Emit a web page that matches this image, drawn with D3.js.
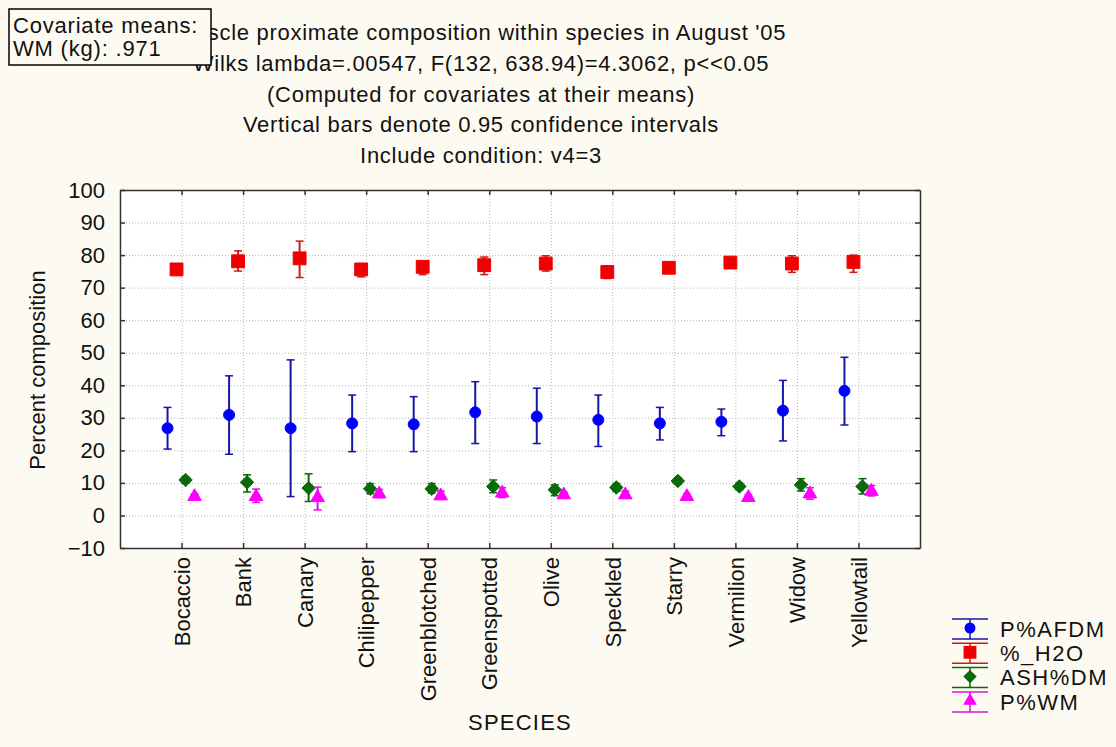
<!DOCTYPE html>
<html>
<head>
<meta charset="utf-8">
<script src="https://cdn.jsdelivr.net/npm/d3@7"></script>
<style>
  body { margin:0; background:#fdfbf1; }
  .canvas { width:1116px; height:747px; }
  text { font-family: "Liberation Sans", Arial, sans-serif; fill:#111; }
  .grid line { stroke:#b8b8b8; stroke-dasharray:1,2; }
</style>
</head>
<body>
<div class="canvas"></div>
<script>
var species = ['Bocaccio','Bank','Canary','Chilipepper','Greenblotched','Greenspotted',
               'Olive','Speckled','Starry','Vermilion','Widow','Yellowtail'];
var seriesNames = ['P%AFDM','%_H2O','ASH%DM','P%WM'];

// means and 0.95 confidence limits
var afdmMean = [26.8, 30.9, 26.8, 28.3, 28.0, 31.7, 30.4, 29.4, 28.3, 28.8, 32.2, 38.3];
var afdmLo   = [20.4, 18.8,  5.8, 19.6, 19.6, 22.1, 22.1, 21.2, 23.2, 24.5, 22.9, 27.8];
var afdmHi   = [33.2, 42.9, 47.8, 37.0, 36.5, 41.1, 39.1, 37.0, 33.2, 32.7, 41.5, 48.6];
var h2oMean  = [75.6, 78.1, 79.0, 75.6, 76.4, 76.9, 77.4, 74.8, 76.1, 77.7, 77.4, 77.9];
var h2oLo    = [74.6, 75.1, 73.1, 73.3, 74.0, 74.0, 75.1, 72.8, 75.2, 76.8, 74.7, 74.7];
var h2oHi    = [76.6, 81.3, 84.3, 77.3, 78.1, 79.4, 79.8, 76.7, 77.0, 78.6, 79.8, 80.0];
var ashMean  = [10.9, 10.2,  8.4,  8.2,  8.2,  8.9,  7.9,  8.6, 10.6,  8.9,  9.4,  8.9];
var ashLo    = [ 9.9,  7.2,  4.3,  6.7,  6.9,  7.0,  6.1,  7.4,  9.6,  7.9,  7.5,  6.6];
var ashHi    = [11.9, 12.5, 12.8,  9.8,  9.8, 10.9,  9.4,  9.8, 11.6,  9.9, 11.3, 11.3];
var wmMean   = [ 5.8,  5.8,  5.5,  6.6,  6.0,  6.9,  6.3,  6.3,  5.8,  5.5,  6.6,  7.4];
var wmLo     = [ 5.0,  4.0,  1.7,  5.5,  5.0,  5.5,  5.4,  5.3,  5.0,  4.6,  5.0,  6.0];
var wmHi     = [ 6.6,  8.1,  8.7,  8.0,  7.5,  8.5,  7.2,  7.5,  6.6,  6.4,  8.5,  9.2];
var yTicks = [-10,0,10,20,30,40,50,60,70,80,90,100];

var titleLines = ["Muscle proximate composition within species in August '05",
                  "Wilks lambda=.00547, F(132, 638.94)=4.3062, p<<0.05",
                  "(Computed for covariates at their means)",
                  "Vertical bars denote 0.95 confidence intervals",
                  "Include condition: v4=3"];

var pageWidth = 1116, pageHeight = 747;
var margins = {t:190,r:196,b:199,l:120};
var plotWidth = pageWidth - margins.l - margins.r,
    plotHeight = pageHeight - margins.t - margins.b;

var diamond = {draw:function(ctx,size){ var r = Math.sqrt(size/2);
    ctx.moveTo(0,-r); ctx.lineTo(r,0); ctx.lineTo(0,r); ctx.lineTo(-r,0); ctx.closePath(); }};

var series = [
  {name:seriesNames[0], mean:afdmMean, lo:afdmLo, hi:afdmHi, fill:'#0000ff', line:'#1515a8', shape:d3.symbolCircle, size:95},
  {name:seriesNames[1], mean:h2oMean,  lo:h2oLo,  hi:h2oHi,  fill:'#f00000', line:'#d01818', shape:d3.symbolSquare, size:165},
  {name:seriesNames[2], mean:ashMean,  lo:ashLo,  hi:ashHi,  fill:'#086a08', line:'#0a6a0a', shape:diamond, size:90},
  {name:seriesNames[3], mean:wmMean,   lo:wmLo,   hi:wmHi,   fill:'#ff00ff', line:'#e010e0', shape:d3.symbolTriangle, size:80}
];

var svg = d3.select('.canvas')
    .append('svg')
    .attr('width',pageWidth)
    .attr('height',pageHeight);

svg.append('rect')
    .attr('width',pageWidth)
    .attr('height',pageHeight)
    .attr('fill','#fdfbf1');

// titles
svg.selectAll('.title')
    .data(titleLines)
    .enter()
    .append('text')
    .attr('class','title')
    .attr('x',481)
    .attr('y',function(d,i){ return 40 + i*30.8; })
    .attr('text-anchor','middle')
    .style('font-size','22px')
    .style('letter-spacing','0.7px')
    .text(function(d){ return d; });

var plot = svg.append('g')
    .attr('transform','translate('+margins.l+','+margins.t+')');

var x = d3.scalePoint().domain(species).range([0,plotWidth]).padding(1);
var y = d3.scaleLinear().domain([-10,100]).range([plotHeight,0]);
var offset = d3.scalePoint().domain(seriesNames).range([-14,13]);

plot.append('rect')
    .attr('width',plotWidth)
    .attr('height',plotHeight)
    .attr('fill','#ffffff');

// grid
plot.append('g')
    .attr('class','grid')
    .call(d3.axisLeft(y).tickValues(yTicks).tickSize(-plotWidth).tickFormat(''))
    .call(function(g){ g.select('.domain').remove(); });
plot.append('g')
    .attr('class','grid')
    .call(d3.axisBottom(x).tickSize(plotHeight).tickFormat(''))
    .call(function(g){ g.select('.domain').remove(); });

// axes with inward ticks
var axisLeft = plot.append('g')
    .call(d3.axisLeft(y).tickValues(yTicks).tickSizeInner(-5).tickSizeOuter(0).tickPadding(15));
var axisBottom = plot.append('g')
    .attr('transform','translate(0,'+plotHeight+')')
    .call(d3.axisBottom(x).tickSizeInner(-5).tickSizeOuter(0));
plot.append('g')
    .call(d3.axisTop(x).tickSizeInner(-5).tickSizeOuter(0).tickFormat(''));
plot.append('g')
    .attr('transform','translate('+plotWidth+',0)')
    .call(d3.axisRight(y).tickValues(yTicks).tickSizeInner(-5).tickSizeOuter(0).tickFormat(''));

plot.selectAll('.domain').attr('stroke','#333').attr('stroke-width',1.5);
plot.selectAll('.tick line').filter(function(){ return !this.parentNode.parentNode.classList.contains('grid'); })
    .attr('stroke','#333').attr('stroke-width',1.5);

axisLeft.selectAll('text')
    .style('font-size','22px')
    .attr('fill','#111');

axisBottom.selectAll('text')
    .style('font-size','22px')
    .attr('fill','#111')
    .attr('text-anchor','end')
    .attr('transform','rotate(-90)')
    .attr('x',-9)
    .attr('y',0)
    .attr('dy','0.35em');

// error bars + markers
series.forEach(function(s){
    var g = plot.append('g').attr('class','series');
    species.forEach(function(sp,i){
        var cx = x(sp) + offset(s.name);
        g.append('line')
            .attr('x1',cx).attr('x2',cx)
            .attr('y1',y(s.lo[i])).attr('y2',y(s.hi[i]))
            .attr('stroke',s.line).attr('stroke-width',2);
        [s.lo[i], s.hi[i]].forEach(function(v){
            g.append('line')
                .attr('x1',cx-4).attr('x2',cx+4)
                .attr('y1',y(v)).attr('y2',y(v))
                .attr('stroke',s.line).attr('stroke-width',1.5);
        });
        g.append('path')
            .attr('d',d3.symbol().type(s.shape).size(s.size)())
            .attr('transform','translate('+cx+','+y(s.mean[i])+')')
            .attr('fill',s.fill)
            .attr('stroke',s.fill)
            .attr('stroke-width',1);
    });
});

// axis titles
svg.append('text')
    .attr('transform','translate(45,'+370+') rotate(-90)')
    .attr('text-anchor','middle')
    .style('font-size','22px')
    .text('Percent composition');
svg.append('text')
    .attr('x',520)
    .attr('y',730)
    .attr('text-anchor','middle')
    .style('font-size','22px')
    .style('letter-spacing','1.2px')
    .text('SPECIES');

// legend
var legend = svg.append('g')
    .attr('transform','translate(952,629)');
series.forEach(function(s,i){
    var row = legend.append('g').attr('transform','translate(0,'+(i*24.3)+')');
    row.append('line').attr('x1',0).attr('x2',36).attr('y1',-10).attr('y2',-10)
        .attr('stroke',s.line).attr('stroke-width',1.5);
    row.append('line').attr('x1',0).attr('x2',36).attr('y1',10).attr('y2',10)
        .attr('stroke',s.line).attr('stroke-width',1.5);
    row.append('line').attr('x1',18).attr('x2',18).attr('y1',-10).attr('y2',10)
        .attr('stroke',s.line).attr('stroke-width',1.5);
    row.append('path')
        .attr('d',d3.symbol().type(s.shape).size(s.size)())
        .attr('transform','translate(18,-1)')
        .attr('fill',s.fill);
    row.append('text')
        .attr('x',48).attr('y',0).attr('dy','0.35em')
        .style('font-size','22px')
        .style('letter-spacing','1.5px')
        .text(s.name);
});

// covariate box
var box = svg.append('g').attr('transform','translate(9,9)');
box.append('rect')
    .attr('width',202).attr('height',56)
    .attr('fill','#fdfbf1').attr('stroke','#000').attr('stroke-width',1.5);
box.append('text').attr('x',4).attr('y',24).style('font-size','22px').style('letter-spacing','0.8px').text('Covariate means:');
box.append('text').attr('x',4).attr('y',47).style('font-size','22px').style('letter-spacing','0.8px').text('WM (kg): .971');
</script>
</body>
</html>
